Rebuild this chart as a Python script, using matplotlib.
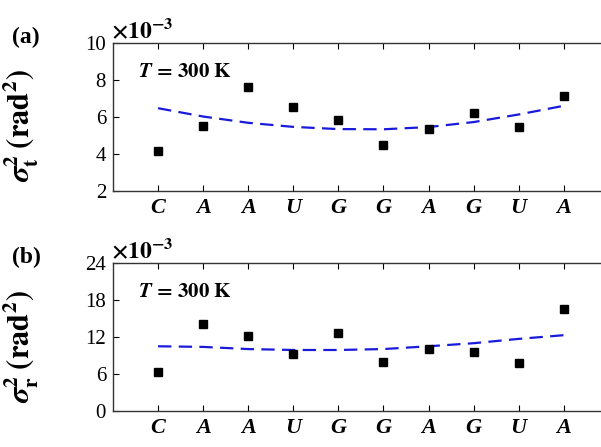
import matplotlib
matplotlib.use("Agg")
import matplotlib.pyplot as plt

plt.rcParams['font.family'] = 'Liberation Serif'
plt.rcParams['mathtext.fontset'] = 'stix'

# nucleotide sequence along the x axis
bases = ['C', 'A', 'A', 'U', 'G', 'G', 'A', 'G', 'U', 'A']

# panel (a): sigma_t^2 (x1e-3 rad^2)
sig_t = [4.18, 5.50, 7.62, 6.56, 5.84, 4.47, 5.37, 6.22, 5.46, 7.14]
fit_t = [6.47, 6.02, 5.68, 5.46, 5.34, 5.33, 5.45, 5.72, 6.13, 6.60]

# panel (b): sigma_r^2 (x1e-3 rad^2)
sig_r = [6.3, 14.05, 12.1, 9.3, 12.7, 8.0, 10.05, 9.5, 7.8, 16.5]
fit_r = [10.5, 10.4, 10.05, 9.9, 9.9, 10.05, 10.5, 11.0, 11.7, 12.3]

fig = plt.figure(figsize=(6.01, 4.47), dpi=100)
ax1 = fig.add_axes([0.188, 0.573, 0.825, 0.331])
ax2 = fig.add_axes([0.188, 0.0805, 0.825, 0.331])

panels = [
    (ax1, sig_t, fit_t, (2, 10), [2, 4, 6, 8, 10], 't', '(a)'),
    (ax2, sig_r, fit_r, (0, 24), [0, 6, 12, 18, 24], 'r', '(b)'),
]

x = list(range(len(bases)))
for ax, vals, fit, ylim, yticks, sub, tag in panels:
    ax.plot(x, fit, color='#1a1adc', lw=1.6, dashes=(6, 3.3))
    ax.plot(x, vals, 's', color='black', ms=6)
    ax.set_xlim(-1, 10)
    ax.set_ylim(*ylim)
    ax.set_yticks(yticks)
    ax.set_xticks(x)
    ax.set_xticklabels(bases, fontsize=16, fontweight='bold', fontstyle='italic')
    ax.tick_params(axis='y', labelsize=15, direction='in', length=4, pad=5)
    ax.tick_params(axis='x', direction='in', length=4, top=True, pad=5)
    for s in ax.spines.values():
        s.set_color('#333333')
        s.set_linewidth(1.0)
    ax.text(0.05, 0.80, r'$\mathbfit{T}$' + r'$\mathbf{\,=\,300\ K}$', transform=ax.transAxes,
            fontsize=15, va='center')
    ax.text(-0.005, 1.0, r'$\mathbf{\times 10^{-3}}$', transform=ax.transAxes,
            fontsize=17, va='bottom', ha='left')
    ax.text(-0.203, 1.035, tag, transform=ax.transAxes, fontsize=17,
            fontweight='bold', va='center', ha='left')
    ax.set_ylabel(r'$\mathbfit{\sigma}_{\mathbf{' + sub + r'}}^{\mathbf{2}}\;\mathbf{(rad^2)}$',
                  fontsize=22)
    ax.yaxis.set_label_coords(-0.145, 0.44)

fig.savefig('out.png', dpi=100)
